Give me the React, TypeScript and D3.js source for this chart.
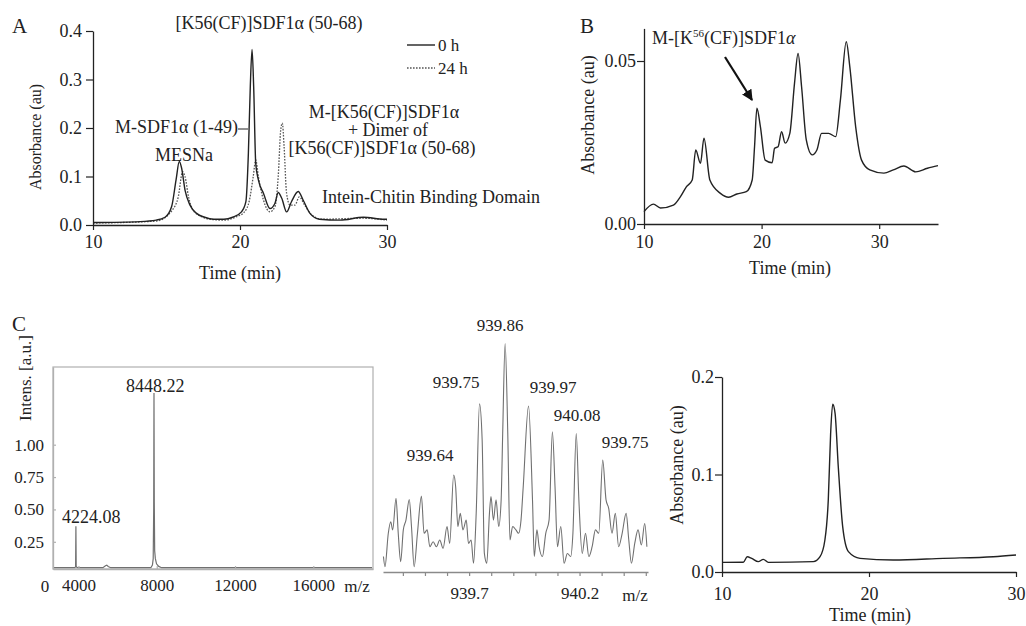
import React, { useEffect, useRef } from 'react';
import * as d3 from 'd3';

// ---------- Panel A: HPLC, 0 h vs 24 h ----------
const aTime0 = [10, 13.2, 14.3, 14.9, 15.35, 15.65, 15.87, 16.03, 16.26, 16.6, 17.05, 17.6, 18.2, 18.9, 19.5, 20.1, 20.4, 20.57, 20.7, 20.82, 20.93, 21.07, 21.25, 21.6, 22.04, 22.38, 22.6, 22.84, 23.17, 23.5, 23.96, 24.3, 24.76, 25.4, 26.8, 28.4, 29.8, 30];
const aAbs0 = [0.005, 0.007, 0.010, 0.016, 0.038, 0.093, 0.131, 0.117, 0.072, 0.041, 0.024, 0.016, 0.012, 0.012, 0.016, 0.027, 0.048, 0.148, 0.285, 0.362, 0.285, 0.127, 0.093, 0.065, 0.034, 0.045, 0.067, 0.055, 0.027, 0.048, 0.069, 0.051, 0.024, 0.012, 0.010, 0.016, 0.012, 0.012];
const aTime24 = [10, 14.3, 15.4, 15.8, 16.1, 16.26, 16.5, 16.8, 17.4, 17.96, 18.9, 19.75, 20.3, 20.64, 20.9, 21.07, 21.25, 21.6, 22.04, 22.38, 22.6, 22.77, 22.88, 23.0, 23.17, 23.4, 23.74, 24.03, 24.4, 24.87, 25.6, 28.4, 30];
const aAbs24 = [0.004, 0.008, 0.031, 0.058, 0.11, 0.10, 0.058, 0.031, 0.017, 0.012, 0.010, 0.017, 0.027, 0.051, 0.10, 0.134, 0.10, 0.051, 0.027, 0.038, 0.10, 0.196, 0.21, 0.161, 0.065, 0.041, 0.041, 0.058, 0.041, 0.021, 0.012, 0.014, 0.010];
const aXTicks = [10, 20, 30];
const aYTicks = [0, 0.1, 0.2, 0.3, 0.4];

// ---------- Panel B: HPLC of ligation product ----------
const bTime = [10.0, 10.8, 11.4, 12.5, 13.1, 13.6, 14.1, 14.4, 14.8, 15.1, 15.6, 16.5, 17.2, 17.9, 18.7, 19.2, 19.4, 19.6, 19.9, 20.3, 20.9, 21.1, 21.4, 21.7, 22.0, 22.4, 22.8, 23.1, 23.4, 23.8, 24.3, 24.7, 25.1, 25.7, 26.3, 26.7, 27.2, 27.5, 28.0, 28.5, 29.2, 30.4, 31.2, 32.1, 33.1, 34.1, 35.0];
const bAbs = [0.0038, 0.0061, 0.0049, 0.0058, 0.0084, 0.0114, 0.0135, 0.0227, 0.0186, 0.0263, 0.0135, 0.0094, 0.0082, 0.0092, 0.0099, 0.0135, 0.0237, 0.0355, 0.0298, 0.0196, 0.0188, 0.0232, 0.0237, 0.0283, 0.0248, 0.0278, 0.0432, 0.0523, 0.0421, 0.0258, 0.0212, 0.0227, 0.0278, 0.0278, 0.0268, 0.038, 0.0559, 0.0483, 0.0298, 0.0196, 0.0166, 0.0156, 0.0166, 0.0178, 0.016, 0.0171, 0.0179];
const bXTicks = [10, 20, 30];
const bYTicks = [0, 0.05];

// ---------- Panel C1: MALDI spectrum ----------
const c1Mz = [2750, 3820, 3855, 3870, 3885, 3930, 5250, 5380, 5450, 5520, 5650, 7700, 7780, 7820, 7845, 7860, 7875, 7895, 7930, 7990, 8100, 8250, 19000];
const c1Int = [0.05, 0.05, 0.06, 0.37, 0.06, 0.05, 0.05, 0.065, 0.07, 0.06, 0.05, 0.05, 0.07, 0.12, 0.5, 1.40, 0.55, 0.18, 0.12, 0.08, 0.06, 0.05, 0.05];
const c1XTicks = [4000, 8000, 12000, 16000];
const c1YTicks = [0.25, 0.5, 0.75, 1.0];

// ---------- Panel C2: isotope pattern ----------
const c2Mz = [939.312, 939.319, 939.334, 939.345, 939.354, 939.369, 939.379, 939.390, 939.402, 939.414, 939.429, 939.439, 939.451, 939.466, 939.484, 939.496, 939.510, 939.522, 939.537, 939.552, 939.567, 939.582, 939.600, 939.612, 939.630, 939.639, 939.649, 939.660, 939.672, 939.687, 939.697, 939.709, 939.720, 939.732, 939.747, 939.759, 939.769, 939.780, 939.792, 939.799, 939.810, 939.822, 939.834, 939.845, 939.852, 939.863, 939.875, 939.885, 939.897, 939.912, 939.924, 939.935, 939.945, 939.969, 939.987, 939.995, 940.007, 940.017, 940.032, 940.047, 940.062, 940.077, 940.089, 940.100, 940.115, 940.130, 940.145, 940.160, 940.170, 940.185, 940.197, 940.212, 940.227, 940.242, 940.257, 940.272, 940.287, 940.305, 940.320, 940.332, 940.347, 940.362, 940.377, 940.393, 940.411, 940.423, 940.435, 940.450, 940.465, 940.480, 940.495, 940.505];
const c2Int = [0.056, 0.014, 0.153, 0.201, 0.167, 0.299, 0.153, 0.035, 0.167, 0.208, 0.294, 0.181, 0.014, 0.153, 0.308, 0.153, 0.167, 0.097, 0.118, 0.097, 0.125, 0.090, 0.181, 0.111, 0.396, 0.347, 0.181, 0.236, 0.167, 0.208, 0.111, 0.125, 0.028, 0.236, 0.692, 0.542, 0.069, 0.028, 0.236, 0.306, 0.208, 0.292, 0.181, 0.292, 0.569, 0.944, 0.569, 0.125, 0.181, 0.167, 0.153, 0.208, 0.347, 0.683, 0.292, 0.056, 0.167, 0.097, 0.056, 0.153, 0.208, 0.576, 0.347, 0.097, 0.181, 0.028, 0.069, 0.056, 0.153, 0.569, 0.292, 0.069, 0.153, 0.056, 0.097, 0.167, 0.153, 0.458, 0.292, 0.257, 0.153, 0.236, 0.097, 0.153, 0.236, 0.125, 0.028, 0.111, 0.167, 0.104, 0.194, 0.097];
const c2PeakLabels = ['939.64', '939.75', '939.86', '939.97', '940.08', '939.75'];
const c2TickLabels = [939.7, 940.2];

// ---------- Panel C3: HPLC of purified product ----------
const c3Time = [10.0, 11.45, 11.72, 12.02, 12.47, 12.81, 13.15, 16.21, 16.67, 17.0, 17.23, 17.39, 17.53, 17.69, 17.91, 18.21, 18.6, 19.39, 21.65, 25.05, 28.46, 30];
const c3Abs = [0.0099, 0.010, 0.0157, 0.014, 0.0106, 0.013, 0.0099, 0.0106, 0.0157, 0.0328, 0.0738, 0.142, 0.172, 0.163, 0.108, 0.0465, 0.0209, 0.014, 0.0123, 0.014, 0.0157, 0.0174];
const c3XTicks = [10, 20, 30];
const c3YTicks = [0, 0.1, 0.2];

const FONT = '"Liberation Serif", "Times New Roman", serif';
const INK = '#222';
const GREY = '#707070';

const App = () => {
  const svgRef = useRef(null);

  useEffect(() => {
    const svg = d3.select(svgRef.current);
    svg.selectAll('*').remove();
    svg.attr('font-family', FONT);

    const text = (x, y, str, size = 18, anchor = 'start', fill = INK) =>
      svg.append('text')
        .attr('x', x).attr('y', y)
        .attr('font-size', size)
        .attr('text-anchor', anchor)
        .attr('fill', fill)
        .text(str);

    const vlabel = (x, y, str, size) =>
      svg.append('text')
        .attr('transform', `translate(${x},${y}) rotate(-90)`)
        .attr('dy', '0.35em')
        .attr('font-size', size)
        .attr('text-anchor', 'middle')
        .attr('fill', INK)
        .text(str);

    const styleAxis = (g, color, size) => {
      g.attr('font-family', FONT).attr('font-size', size);
      g.selectAll('path.domain').attr('stroke', color).attr('stroke-width', 1.3);
      g.selectAll('.tick line').attr('stroke', color).attr('stroke-width', 1.2);
      g.selectAll('.tick text').attr('fill', INK);
    };

    const zip = (xs, ys) => xs.map((x, i) => [x, ys[i]]);

    // arrow marker
    svg.append('defs').append('marker')
      .attr('id', 'arrowhead')
      .attr('viewBox', '0 0 10 10')
      .attr('refX', 9).attr('refY', 5)
      .attr('markerWidth', 5).attr('markerHeight', 5)
      .attr('orient', 'auto')
      .append('path').attr('d', 'M0,0 L10,5 L0,10 z').attr('fill', '#111');

    // ================= Panel A =================
    const xA = d3.scaleLinear().domain([10, 30]).range([93, 387]);
    const yA = d3.scaleLinear().domain([0, 0.4]).range([225, 31]);
    const lineA = d3.line().x(d => xA(d[0])).y(d => yA(d[1])).curve(d3.curveMonotoneX);

    svg.append('path').datum(zip(aTime24, aAbs24)).attr('d', lineA)
      .attr('fill', 'none').attr('stroke', '#555').attr('stroke-width', 1.3).attr('stroke-dasharray', '1.6,1.4');
    svg.append('path').datum(zip(aTime0, aAbs0)).attr('d', lineA)
      .attr('fill', 'none').attr('stroke', INK).attr('stroke-width', 1.4);

    styleAxis(svg.append('g').attr('transform', 'translate(0,225)')
      .call(d3.axisBottom(xA).tickValues(aXTicks).tickSize(5).tickSizeOuter(0).tickPadding(5)), INK, 18);
    styleAxis(svg.append('g').attr('transform', 'translate(93,0)')
      .call(d3.axisLeft(yA).tickValues(aYTicks).tickFormat(d3.format('.1f')).tickSize(7).tickSizeOuter(0).tickPadding(4)), INK, 18);

    text(12, 33, 'A', 21);
    vlabel(35, 137, 'Absorbance (au)', 16);
    text(240, 279, 'Time (min)', 18, 'middle');

    text(269, 29, '[K56(CF)]SDF1α (50-68)', 18, 'middle');
    text(238, 133, 'M-SDF1α (1-49)', 18, 'end');
    svg.append('line').attr('x1', 238).attr('x2', 248).attr('y1', 129).attr('y2', 129).attr('stroke', INK).attr('stroke-width', 1);
    text(184, 161, 'MESNa', 18, 'middle');
    text(384, 118, 'M-[K56(CF)]SDF1α', 18, 'middle');
    text(388, 136, '+ Dimer of', 18, 'middle');
    text(382, 154, '[K56(CF)]SDF1α (50-68)', 18, 'middle');
    text(322, 203, 'Intein-Chitin Binding Domain', 18, 'start');

    // legend
    svg.append('line').attr('x1', 407).attr('x2', 435).attr('y1', 45).attr('y2', 45).attr('stroke', INK).attr('stroke-width', 1.4);
    text(438, 51, '0 h', 17);
    svg.append('line').attr('x1', 407).attr('x2', 435).attr('y1', 68).attr('y2', 68)
      .attr('stroke', '#555').attr('stroke-width', 1.3).attr('stroke-dasharray', '1.6,1.4');
    text(438, 74, '24 h', 17);

    // ================= Panel B =================
    const xB = d3.scaleLinear().domain([10, 35]).range([644, 938]);
    const yB = d3.scaleLinear().domain([0, 0.06]).range([224, 28.4]);
    const lineB = d3.line().x(d => xB(d[0])).y(d => yB(d[1])).curve(d3.curveMonotoneX);

    svg.append('path').datum(zip(bTime, bAbs)).attr('d', lineB)
      .attr('fill', 'none').attr('stroke', INK).attr('stroke-width', 1.4);

    styleAxis(svg.append('g').attr('transform', 'translate(0,224)')
      .call(d3.axisBottom(xB).tickValues(bXTicks).tickSize(5).tickSizeOuter(0).tickPadding(6)), INK, 18);
    styleAxis(svg.append('g').attr('transform', 'translate(644,0)')
      .call(d3.axisLeft(yB).tickValues(bYTicks).tickFormat(d3.format('.2f')).tickSize(7).tickSizeOuter(0).tickPadding(1)), INK, 18);

    text(580, 33, 'B', 21);
    vlabel(588, 115, 'Absorbance (au)', 18);
    text(790, 274, 'Time (min)', 18, 'middle');

    const bNote = text(652, 44, 'M-[K', 18);
    bNote.append('tspan').attr('font-size', 11).attr('dy', -7).text('56');
    bNote.append('tspan').attr('dy', 7).text('(CF)]SDF1');
    bNote.append('tspan').attr('font-style', 'italic').text('α');
    svg.append('line').attr('x1', 725).attr('y1', 57).attr('x2', 752).attr('y2', 100)
      .attr('stroke', '#111').attr('stroke-width', 2.2).attr('marker-end', 'url(#arrowhead)');

    // ================= Panel C1 =================
    const x1 = d3.scaleLinear().domain([2700, 19050]).range([53, 373]);
    const y1 = d3.scaleLinear().domain([0.04, 1.6]).range([569, 367]);
    svg.append('rect').attr('x', 53).attr('y', 367).attr('width', 320).attr('height', 202)
      .attr('fill', 'none').attr('stroke', '#b0b0b0').attr('stroke-width', 1.2);
    const line1 = d3.line().x(d => x1(d[0])).y(d => y1(d[1]));
    svg.append('path').datum(zip(c1Mz, c1Int)).attr('d', line1)
      .attr('fill', 'none').attr('stroke', GREY).attr('stroke-width', 1.2);

    styleAxis(svg.append('g').attr('transform', 'translate(0,569)')
      .call(d3.axisBottom(x1).tickValues(c1XTicks).tickFormat(d3.format('d')).tickSize(-3).tickSizeOuter(0).tickPadding(10)), '#b0b0b0', 17);
    styleAxis(svg.append('g').attr('transform', 'translate(53,0)')
      .call(d3.axisLeft(y1).tickValues(c1YTicks).tickFormat(d3.format('.2f')).tickSize(-3).tickSizeOuter(0).tickPadding(9)), '#b0b0b0', 17);
    text(45, 592, '0', 17, 'middle');
    text(357, 592, 'm/z', 17, 'middle');
    text(62, 523, '4224.08', 18);
    text(126, 392, '8448.22', 18);
    text(12, 331, 'C', 21);
    vlabel(25, 378, 'Intens. [a.u.]', 17);

    // ================= Panel C2 =================
    const x2 = d3.scaleLinear().domain([939.31, 940.51]).range([383, 648]);
    const y2 = d3.scaleLinear().domain([0, 1]).range([570, 330]);
    const line2 = d3.line().x(d => x2(d[0])).y(d => y2(d[1])).curve(d3.curveMonotoneX);
    svg.append('path').datum(zip(c2Mz, c2Int)).attr('d', line2)
      .attr('fill', 'none').attr('stroke', GREY).attr('stroke-width', 1.1);

    const minor = d3.range(0, 12).map(i => +(939.4 + i * 0.1).toFixed(1));
    styleAxis(svg.append('g').attr('transform', 'translate(0,572)')
      .call(d3.axisBottom(x2).tickValues(minor).tickSize(4).tickSizeOuter(0).tickPadding(11)
        .tickFormat(d => (c2TickLabels.includes(d) ? d3.format('.1f')(d) : ''))), '#8a8a8a', 17);
    text(635, 601, 'm/z', 17, 'middle');

    const c2LabelPos = [[430, 461], [456, 388], [500, 331], [553, 393], [577, 421], [625, 448]];
    c2PeakLabels.forEach((lab, i) => text(c2LabelPos[i][0], c2LabelPos[i][1], lab, 17, 'middle'));

    // ================= Panel C3 =================
    const x3 = d3.scaleLinear().domain([10, 30]).range([722, 1016]);
    const y3 = d3.scaleLinear().domain([0, 0.2]).range([572, 377]);
    const line3 = d3.line().x(d => x3(d[0])).y(d => y3(d[1])).curve(d3.curveMonotoneX);
    svg.append('path').datum(zip(c3Time, c3Abs)).attr('d', line3)
      .attr('fill', 'none').attr('stroke', INK).attr('stroke-width', 1.4);

    styleAxis(svg.append('g').attr('transform', 'translate(0,572)')
      .call(d3.axisBottom(x3).tickValues(c3XTicks).tickSize(5).tickSizeOuter(0).tickPadding(10)), INK, 18);
    styleAxis(svg.append('g').attr('transform', 'translate(722,0)')
      .call(d3.axisLeft(y3).tickValues(c3YTicks).tickFormat(d3.format('.1f')).tickSize(7).tickSizeOuter(0).tickPadding(1)), INK, 18);
    vlabel(677, 465, 'Absorbance (au)', 18);
    text(870, 621, 'Time (min)', 18, 'middle');
  }, []);

  return (
    <div style={{ position: 'absolute', left: 0, top: 0, background: '#fff' }}>
      <svg ref={svgRef} width={1026} height={626} />
    </div>
  );
};

export default App;
